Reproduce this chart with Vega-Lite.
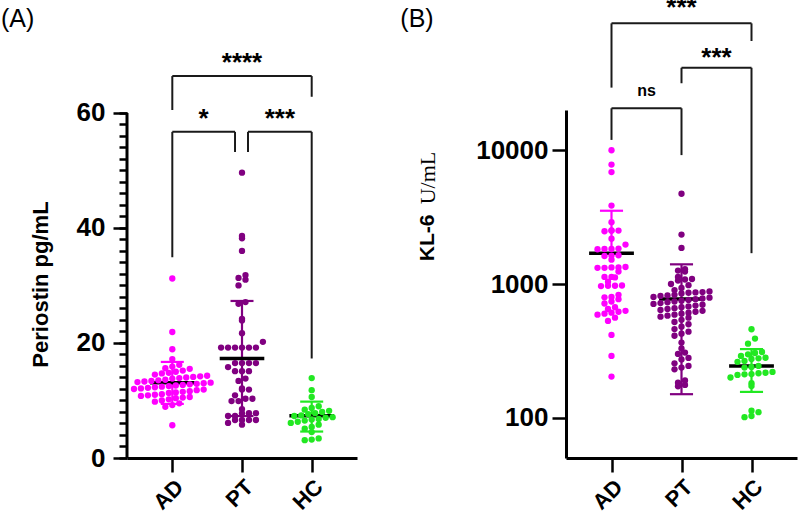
{
  "$schema": "https://vega.github.io/schema/vega-lite/v6.json",
  "autosize": "none",
  "padding": {"left": 127, "top": 110, "right": 672, "bottom": 59},
  "bounds": "flush",
  "spacing": 209,
  "config": {
    "view": {"stroke": null},
    "font": "Liberation Sans",
    "axis": {"domainColor": "black", "domainWidth": 3, "tickColor": "black", "tickWidth": 2.5, "labelColor": "black", "labelFont": "Liberation Sans", "labelFontWeight": "bold", "grid": false, "titleColor": "black", "titleFont": "Liberation Sans", "titleFontWeight": "bold"}
  },
  "datasets": {
    "periostin": [
      {"group":"AD","value":31.2},{"group":"AD","value":21.9},{"group":"AD","value":18.9},{"group":"AD","value":17.2},{"group":"AD","value":16.2},{"group":"AD","value":15.9},{"group":"AD","value":15.6},{"group":"AD","value":15.5},{"group":"AD","value":15.2},{"group":"AD","value":15.0},{"group":"AD","value":14.8},{"group":"AD","value":14.7},{"group":"AD","value":14.5},{"group":"AD","value":14.3},{"group":"AD","value":14.2},{"group":"AD","value":14.1},{"group":"AD","value":14.0},{"group":"AD","value":13.9},{"group":"AD","value":13.8},{"group":"AD","value":13.6},{"group":"AD","value":13.5},{"group":"AD","value":13.4},{"group":"AD","value":13.3},{"group":"AD","value":13.2},{"group":"AD","value":13.1},{"group":"AD","value":13.0},{"group":"AD","value":12.9},{"group":"AD","value":12.8},{"group":"AD","value":12.7},{"group":"AD","value":12.6},{"group":"AD","value":12.5},{"group":"AD","value":12.4},{"group":"AD","value":12.3},{"group":"AD","value":12.2},{"group":"AD","value":12.1},{"group":"AD","value":12.0},{"group":"AD","value":11.9},{"group":"AD","value":11.8},{"group":"AD","value":11.6},{"group":"AD","value":11.5},{"group":"AD","value":11.4},{"group":"AD","value":11.3},{"group":"AD","value":11.1},{"group":"AD","value":11.0},{"group":"AD","value":10.9},{"group":"AD","value":10.8},{"group":"AD","value":10.6},{"group":"AD","value":10.5},{"group":"AD","value":10.4},{"group":"AD","value":10.2},{"group":"AD","value":10.0},{"group":"AD","value":9.8},{"group":"AD","value":9.5},{"group":"AD","value":9.2},{"group":"AD","value":8.9},{"group":"AD","value":5.7},
      {"group":"PT","value":49.6},{"group":"PT","value":38.6},{"group":"PT","value":38.2},{"group":"PT","value":36.0},{"group":"PT","value":31.8},{"group":"PT","value":31.3},{"group":"PT","value":31.0},{"group":"PT","value":30.0},{"group":"PT","value":27.1},{"group":"PT","value":26.8},{"group":"PT","value":24.2},{"group":"PT","value":23.9},{"group":"PT","value":21.7},{"group":"PT","value":20.2},{"group":"PT","value":19.2},{"group":"PT","value":19.2},{"group":"PT","value":19.2},{"group":"PT","value":19.2},{"group":"PT","value":19.2},{"group":"PT","value":19.2},{"group":"PT","value":16.5},{"group":"PT","value":16.5},{"group":"PT","value":16.5},{"group":"PT","value":16.5},{"group":"PT","value":15.8},{"group":"PT","value":15.1},{"group":"PT","value":15.1},{"group":"PT","value":15.1},{"group":"PT","value":13.8},{"group":"PT","value":13.4},{"group":"PT","value":12.1},{"group":"PT","value":11.9},{"group":"PT","value":11.9},{"group":"PT","value":10.9},{"group":"PT","value":10.3},{"group":"PT","value":10.3},{"group":"PT","value":9.9},{"group":"PT","value":9.9},{"group":"PT","value":8.5},{"group":"PT","value":7.8},{"group":"PT","value":7.8},{"group":"PT","value":7.8},{"group":"PT","value":7.3},{"group":"PT","value":7.3},{"group":"PT","value":6.6},{"group":"PT","value":6.6},{"group":"PT","value":6.6},{"group":"PT","value":6.6},{"group":"PT","value":6.1},{"group":"PT","value":5.8},
      {"group":"HC","value":13.9},{"group":"HC","value":11.8},{"group":"HC","value":10.6},{"group":"HC","value":9.0},{"group":"HC","value":8.7},{"group":"HC","value":8.4},{"group":"HC","value":8.2},{"group":"HC","value":8.0},{"group":"HC","value":7.8},{"group":"HC","value":7.6},{"group":"HC","value":7.4},{"group":"HC","value":7.3},{"group":"HC","value":7.1},{"group":"HC","value":7.0},{"group":"HC","value":6.8},{"group":"HC","value":6.7},{"group":"HC","value":6.5},{"group":"HC","value":6.3},{"group":"HC","value":6.1},{"group":"HC","value":5.8},{"group":"HC","value":5.4},{"group":"HC","value":5.1},{"group":"HC","value":4.5},{"group":"HC","value":3.4},{"group":"HC","value":3.2},{"group":"HC","value":3.1}
    ],
    "kl6": [
      {"group":"AD","value":10000},{"group":"AD","value":7820},{"group":"AD","value":6870},{"group":"AD","value":3860},{"group":"AD","value":2900},{"group":"AD","value":2520},{"group":"AD","value":2510},{"group":"AD","value":2500},{"group":"AD","value":2480},{"group":"AD","value":2180},{"group":"AD","value":1970},{"group":"AD","value":1840},{"group":"AD","value":1830},{"group":"AD","value":1830},{"group":"AD","value":1820},{"group":"AD","value":1640},{"group":"AD","value":1630},{"group":"AD","value":1620},{"group":"AD","value":1520},{"group":"AD","value":1340},{"group":"AD","value":1330},{"group":"AD","value":1330},{"group":"AD","value":1320},{"group":"AD","value":1320},{"group":"AD","value":1240},{"group":"AD","value":1130},{"group":"AD","value":1130},{"group":"AD","value":1120},{"group":"AD","value":1040},{"group":"AD","value":975},{"group":"AD","value":970},{"group":"AD","value":970},{"group":"AD","value":965},{"group":"AD","value":830},{"group":"AD","value":800},{"group":"AD","value":795},{"group":"AD","value":770},{"group":"AD","value":740},{"group":"AD","value":715},{"group":"AD","value":670},{"group":"AD","value":650},{"group":"AD","value":630},{"group":"AD","value":620},{"group":"AD","value":610},{"group":"AD","value":600},{"group":"AD","value":590},{"group":"AD","value":560},{"group":"AD","value":530},{"group":"AD","value":416},{"group":"AD","value":290},{"group":"AD","value":203},
      {"group":"PT","value":4730},{"group":"PT","value":2340},{"group":"PT","value":1860},{"group":"PT","value":1290},{"group":"PT","value":1260},{"group":"PT","value":1240},{"group":"PT","value":1130},{"group":"PT","value":1090},{"group":"PT","value":1080},{"group":"PT","value":1060},{"group":"PT","value":1000},{"group":"PT","value":980},{"group":"PT","value":933},{"group":"PT","value":900},{"group":"PT","value":880},{"group":"PT","value":870},{"group":"PT","value":865},{"group":"PT","value":860},{"group":"PT","value":850},{"group":"PT","value":830},{"group":"PT","value":820},{"group":"PT","value":815},{"group":"PT","value":800},{"group":"PT","value":790},{"group":"PT","value":780},{"group":"PT","value":770},{"group":"PT","value":760},{"group":"PT","value":750},{"group":"PT","value":740},{"group":"PT","value":730},{"group":"PT","value":720},{"group":"PT","value":710},{"group":"PT","value":700},{"group":"PT","value":690},{"group":"PT","value":680},{"group":"PT","value":670},{"group":"PT","value":660},{"group":"PT","value":650},{"group":"PT","value":640},{"group":"PT","value":630},{"group":"PT","value":620},{"group":"PT","value":610},{"group":"PT","value":600},{"group":"PT","value":590},{"group":"PT","value":580},{"group":"PT","value":570},{"group":"PT","value":560},{"group":"PT","value":540},{"group":"PT","value":520},{"group":"PT","value":500},{"group":"PT","value":480},{"group":"PT","value":460},{"group":"PT","value":440},{"group":"PT","value":425},{"group":"PT","value":410},{"group":"PT","value":365},{"group":"PT","value":330},{"group":"PT","value":307},{"group":"PT","value":300},{"group":"PT","value":280},{"group":"PT","value":273},{"group":"PT","value":255},{"group":"PT","value":244},{"group":"PT","value":237},{"group":"PT","value":230},{"group":"PT","value":190},{"group":"PT","value":183},{"group":"PT","value":176},{"group":"PT","value":172},
      {"group":"HC","value":459},{"group":"HC","value":391},{"group":"HC","value":358},{"group":"HC","value":310},{"group":"HC","value":305},{"group":"HC","value":298},{"group":"HC","value":290},{"group":"HC","value":281},{"group":"HC","value":278},{"group":"HC","value":275},{"group":"HC","value":266},{"group":"HC","value":262},{"group":"HC","value":244},{"group":"HC","value":240},{"group":"HC","value":237},{"group":"HC","value":220},{"group":"HC","value":217},{"group":"HC","value":215},{"group":"HC","value":212},{"group":"HC","value":211},{"group":"HC","value":209},{"group":"HC","value":200},{"group":"HC","value":181},{"group":"HC","value":173},{"group":"HC","value":113},{"group":"HC","value":110},{"group":"HC","value":103},{"group":"HC","value":101}
    ],
    "sumA": [
      {"group":"AD","mean":13.1,"lo":9.4,"hi":16.7},
      {"group":"PT","mean":17.3,"lo":7.3,"hi":27.3},
      {"group":"HC","mean":7.35,"lo":4.6,"hi":9.8}
    ],
    "sumB": [
      {"group":"AD","mean":1695,"lo":null,"hi":3530},
      {"group":"PT","mean":771,"lo":150,"hi":1403},
      {"group":"HC","mean":244,"lo":156,"hi":326}
    ],
    "brA": [
      {"x1":1,"x2":3,"y":66.4,"yl":60.5,"yr":62.8,"label":"****","ly":67.3},
      {"x1":1,"x2":1.9,"y":56.7,"yl":34.9,"yr":53.2,"label":"*","ly":57.6},
      {"x1":2.086,"x2":3,"y":56.7,"yl":53.2,"yr":17.3,"label":"***","ly":57.6}
    ],
    "brB": [
      {"x1":1,"x2":3,"y":88900,"yl":29400,"yr":65600,"label":"***","ly":101300},
      {"x1":2,"x2":3,"y":41400,"yl":31700,"yr":1700,"label":"***","ly":42800},
      {"x1":1,"x2":2,"y":20600,"yl":11950,"yr":9200,"label":"ns","ly":25600}
    ]
  },
  "hconcat": [
    {
      "width": 230,
      "height": 348,
      "resolve": {"axis": {"y": "independent"}},
      "layer": [
        {
          "data": {"values": [{}]},
          "mark": {"type": "rule", "strokeWidth": 3, "color": "black"},
          "encoding": {
            "x": {"datum": 0.35, "type": "quantitative", "scale": {"domain": [0.35, 3.65], "nice": false, "zero": false}, "title": null},
            "y": {"datum": 0, "type": "quantitative", "scale": {"domain": [0, 60.5], "nice": false, "zero": false}, "axis": {"orient": "left", "values": [0,2,4,6,8,10,12,14,16,18,20,22,24,26,28,30,32,34,36,38,40,42,44,46,48,50,52,54,56,58,60], "labels": false, "domain": false, "tickSize": 8, "title": null}},
            "y2": {"datum": 60}
          }
        },
        {
          "data": {"name": "sumA"},
          "transform": [
            {"calculate": "indexof(['AD','PT','HC'], datum.group) + 1", "as": "gi"},
            {"calculate": "datum.gi - 0.165", "as": "cl"},
            {"calculate": "datum.gi + 0.165", "as": "cr"},
            {"calculate": "datum.gi - 0.32", "as": "ml"},
            {"calculate": "datum.gi + 0.32", "as": "mr"}
          ],
          "layer": [
            {"mark": {"type": "rule", "strokeWidth": 2.2},
             "encoding": {"x": {"field": "gi", "type": "quantitative", "title": null}, "y": {"field": "lo", "type": "quantitative", "axis": null}, "y2": {"field": "hi"}, "color": {"field": "group", "type": "nominal", "scale": {"domain": ["AD","PT","HC"], "range": ["#ff00ff","#800080","#22e822"]}, "legend": null}}},
            {"mark": {"type": "rule", "strokeWidth": 2.2},
             "encoding": {"x": {"field": "cl", "type": "quantitative", "title": null}, "x2": {"field": "cr"}, "y": {"field": "hi", "type": "quantitative", "axis": null}, "color": {"field": "group", "type": "nominal", "legend": null}}},
            {"mark": {"type": "rule", "strokeWidth": 2.2},
             "encoding": {"x": {"field": "cl", "type": "quantitative", "title": null}, "x2": {"field": "cr"}, "y": {"field": "lo", "type": "quantitative", "axis": null}, "color": {"field": "group", "type": "nominal", "legend": null}}},
            {"mark": {"type": "rule", "strokeWidth": 3.5, "color": "black"},
             "encoding": {"x": {"field": "ml", "type": "quantitative", "title": null}, "x2": {"field": "mr"}, "y": {"field": "mean", "type": "quantitative", "axis": null}}}
          ]
        },
        {
          "data": {"name": "periostin"},
          "transform": [
            {"calculate": "indexof(['AD','PT','HC'], datum.group) + 1", "as": "gi"},
            {"bin": {"step": 1.2}, "field": "value", "as": "vb"},
            {"window": [{"op": "row_number", "as": "rk"}], "groupby": ["group", "vb"], "sort": [{"field": "value", "order": "ascending"}]},
            {"joinaggregate": [{"op": "count", "as": "nb"}], "groupby": ["group", "vb"]},
            {"calculate": "datum.gi + (datum.rk - (datum.nb + 1) / 2) * 0.1", "as": "xpos"}
          ],
          "mark": {"type": "circle", "size": 40, "opacity": 1},
          "encoding": {
            "x": {"field": "xpos", "type": "quantitative", "scale": {"domain": [0.35, 3.65], "nice": false, "zero": false},
                  "axis": {"values": [1,2,3], "labelExpr": "['AD','PT','HC'][datum.value - 1]", "labelAngle": -45, "labelFontSize": 22, "tickSize": 14, "title": null, "labelPadding": 4}},
            "y": {"field": "value", "type": "quantitative", "scale": {"domain": [0, 60.5], "nice": false, "zero": false},
                  "axis": {"orient": "left", "values": [0,20,40,60], "tickSize": 14, "labelFontSize": 26, "domain": false, "title": "Periostin pg/mL", "titleFontSize": 22, "labelPadding": 8, "titlePadding": 24}},
            "color": {"field": "group", "type": "nominal", "legend": null}
          }
        },
        {
          "data": {"name": "brA"},
          "transform": [{"calculate": "(datum.x1 + datum.x2) / 2", "as": "xm"}],
          "layer": [
            {"mark": {"type": "rule", "strokeWidth": 2, "color": "#1a1a1a"},
             "encoding": {"x": {"field": "x1", "type": "quantitative", "title": null}, "x2": {"field": "x2"}, "y": {"field": "y", "type": "quantitative", "axis": null}}},
            {"mark": {"type": "rule", "strokeWidth": 2, "color": "#1a1a1a"},
             "encoding": {"x": {"field": "x1", "type": "quantitative", "title": null}, "y": {"field": "y", "type": "quantitative", "axis": null}, "y2": {"field": "yl"}}},
            {"mark": {"type": "rule", "strokeWidth": 2, "color": "#1a1a1a"},
             "encoding": {"x": {"field": "x2", "type": "quantitative", "title": null}, "y": {"field": "y", "type": "quantitative", "axis": null}, "y2": {"field": "yr"}}},
            {"mark": {"type": "text", "fontSize": 26, "fontWeight": "bold", "font": "Liberation Sans", "align": "center", "baseline": "alphabetic", "color": "black"},
             "encoding": {"x": {"field": "xm", "type": "quantitative", "title": null}, "y": {"field": "ly", "type": "quantitative", "axis": null}, "text": {"field": "label"}}}
          ]
        },
        {
          "data": {"values": [{}]},
          "mark": {"type": "text", "fontSize": 25, "font": "Liberation Sans", "align": "left", "baseline": "alphabetic", "color": "black"},
          "encoding": {
            "x": {"datum": -1.458, "type": "quantitative", "title": null},
            "y": {"datum": 74.9, "type": "quantitative", "axis": null},
            "text": {"value": "(A)"}
          }
        }
      ]
    },
    {
      "width": 231,
      "height": 348,
      "resolve": {"axis": {"y": "independent"}},
      "layer": [
        {
          "data": {"name": "sumB"},
          "transform": [
            {"calculate": "indexof(['AD','PT','HC'], datum.group) + 1", "as": "gi"},
            {"calculate": "datum.lo == null ? datum.mean : datum.lo", "as": "lo2"},
            {"calculate": "datum.gi - 0.165", "as": "cl"},
            {"calculate": "datum.gi + 0.165", "as": "cr"},
            {"calculate": "datum.gi - 0.32", "as": "ml"},
            {"calculate": "datum.gi + 0.32", "as": "mr"}
          ],
          "layer": [
            {"mark": {"type": "rule", "strokeWidth": 2.2},
             "encoding": {"x": {"field": "gi", "type": "quantitative", "title": null, "scale": {"domain": [0.35, 3.65], "nice": false, "zero": false}}, "y": {"field": "lo2", "type": "quantitative", "scale": {"type": "log", "domain": [50, 20000], "nice": false}, "axis": {"orient": "left", "values": [50,60,70,80,90,100,200,300,400,500,600,700,800,900,1000,2000,3000,4000,5000,6000,7000,8000,9000,10000,20000], "labels": false, "domain": false, "tickSize": 7, "title": null}}, "y2": {"field": "hi"}, "color": {"field": "group", "type": "nominal", "scale": {"domain": ["AD","PT","HC"], "range": ["#ff00ff","#800080","#22e822"]}, "legend": null}}},
            {"mark": {"type": "rule", "strokeWidth": 2.2},
             "encoding": {"x": {"field": "cl", "type": "quantitative", "title": null}, "x2": {"field": "cr"}, "y": {"field": "hi", "type": "quantitative", "axis": null}, "color": {"field": "group", "type": "nominal", "legend": null}}},
            {"transform": [{"filter": "datum.lo != null"}],
             "mark": {"type": "rule", "strokeWidth": 2.2},
             "encoding": {"x": {"field": "cl", "type": "quantitative", "title": null}, "x2": {"field": "cr"}, "y": {"field": "lo", "type": "quantitative", "axis": null}, "color": {"field": "group", "type": "nominal", "legend": null}}},
            {"mark": {"type": "rule", "strokeWidth": 3.5, "color": "black"},
             "encoding": {"x": {"field": "ml", "type": "quantitative", "title": null}, "x2": {"field": "mr"}, "y": {"field": "mean", "type": "quantitative", "axis": null}}}
          ]
        },
        {
          "data": {"name": "kl6"},
          "transform": [
            {"calculate": "indexof(['AD','PT','HC'], datum.group) + 1", "as": "gi"},
            {"calculate": "log(datum.value) / LN10", "as": "lv"},
            {"bin": {"step": 0.05}, "field": "lv", "as": "vb"},
            {"window": [{"op": "row_number", "as": "rk"}], "groupby": ["group", "vb"], "sort": [{"field": "value", "order": "ascending"}]},
            {"joinaggregate": [{"op": "count", "as": "nb"}], "groupby": ["group", "vb"]},
            {"calculate": "datum.gi + (datum.rk - (datum.nb + 1) / 2) * 0.1", "as": "xpos"}
          ],
          "mark": {"type": "circle", "size": 40, "opacity": 1},
          "encoding": {
            "x": {"field": "xpos", "type": "quantitative", "scale": {"domain": [0.35, 3.65], "nice": false, "zero": false},
                  "axis": {"values": [1,2,3], "labelExpr": "['AD','PT','HC'][datum.value - 1]", "labelAngle": -45, "labelFontSize": 22, "tickSize": 14, "title": null, "labelPadding": 4}},
            "y": {"field": "value", "type": "quantitative", "scale": {"type": "log", "domain": [50, 20000], "nice": false},
                  "axis": {"orient": "left", "values": [100, 1000, 10000], "format": "d", "tickSize": 14, "labelFontSize": 26, "title": null, "labelPadding": 4}},
            "color": {"field": "group", "type": "nominal", "legend": null}
          }
        },
        {
          "data": {"name": "brB"},
          "transform": [{"calculate": "(datum.x1 + datum.x2) / 2", "as": "xm"}],
          "layer": [
            {"mark": {"type": "rule", "strokeWidth": 2, "color": "#1a1a1a"},
             "encoding": {"x": {"field": "x1", "type": "quantitative", "title": null}, "x2": {"field": "x2"}, "y": {"field": "y", "type": "quantitative", "axis": null}}},
            {"mark": {"type": "rule", "strokeWidth": 2, "color": "#1a1a1a"},
             "encoding": {"x": {"field": "x1", "type": "quantitative", "title": null}, "y": {"field": "y", "type": "quantitative", "axis": null}, "y2": {"field": "yl"}}},
            {"mark": {"type": "rule", "strokeWidth": 2, "color": "#1a1a1a"},
             "encoding": {"x": {"field": "x2", "type": "quantitative", "title": null}, "y": {"field": "y", "type": "quantitative", "axis": null}, "y2": {"field": "yr"}}},
            {"transform": [{"filter": "datum.label != 'ns'"}],
             "mark": {"type": "text", "fontSize": 26, "fontWeight": "bold", "font": "Liberation Sans", "align": "center", "baseline": "alphabetic", "color": "black"},
             "encoding": {"x": {"field": "xm", "type": "quantitative", "title": null}, "y": {"field": "ly", "type": "quantitative", "axis": null}, "text": {"field": "label"}}},
            {"transform": [{"filter": "datum.label == 'ns'"}],
             "mark": {"type": "text", "fontSize": 16, "fontWeight": "bold", "font": "Liberation Sans", "align": "center", "baseline": "alphabetic", "color": "black"},
             "encoding": {"x": {"field": "xm", "type": "quantitative", "title": null}, "y": {"field": "ly", "type": "quantitative", "axis": null}, "text": {"field": "label"}}}
          ]
        },
        {
          "data": {"values": [{}]},
          "mark": {"type": "text", "fontSize": 25, "font": "Liberation Sans", "align": "left", "baseline": "alphabetic", "color": "black"},
          "encoding": {
            "x": {"datum": -2.017, "type": "quantitative", "title": null},
            "y": {"datum": 83000, "type": "quantitative", "axis": null},
            "text": {"value": "(B)"}
          }
        },
        {
          "data": {"values": [{}]},
          "mark": {"type": "text", "fontSize": 21, "fontWeight": "bold", "font": "Liberation Sans", "align": "center", "baseline": "middle", "angle": 270, "color": "black"},
          "encoding": {
            "x": {"datum": -1.617, "type": "quantitative", "title": null},
            "y": {"datum": 2210, "type": "quantitative", "axis": null},
            "text": {"value": "KL-6"}
          }
        },
        {
          "data": {"values": [{}]},
          "mark": {"type": "text", "fontSize": 22, "font": "Liberation Serif", "align": "center", "baseline": "middle", "angle": 270, "color": "black"},
          "encoding": {
            "x": {"datum": -1.617, "type": "quantitative", "title": null},
            "y": {"datum": 6200, "type": "quantitative", "axis": null},
            "text": {"value": "U/mL"}
          }
        }
      ]
    }
  ]
}
